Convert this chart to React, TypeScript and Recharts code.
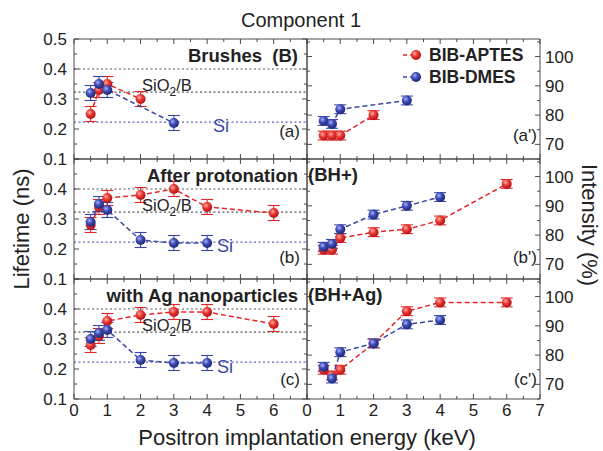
import React from "react"
import { ComposedChart, Line, XAxis, YAxis, ErrorBar, ReferenceLine } from "recharts"

const W = 603
const H = 451
const RED = "#e3262a"
const BLUE = "#3a47a6"
const AXIS = "#4a4a4a"
const TEXT = "#222"
const FONT = "'Liberation Sans', Arial, Helvetica, sans-serif"

const SERIES = ["BIB-APTES", "BIB-DMES"]

const X_TICKS = [0, 0.5, 1, 1.5, 2, 2.5, 3, 3.5, 4, 4.5, 5, 5.5, 6, 6.5, 7]
const LIFE_TICKS = [0.1, 0.15, 0.2, 0.25, 0.3, 0.35, 0.4, 0.45, 0.5]
const INT_TICKS = [65, 70, 75, 80, 85, 90, 95, 100, 105]
const LIFE_DOMAIN = [0.1, 0.5]
const INT_DOMAIN = [65, 106]

// horizontal reference levels (ns)
const REF_TOP = 0.4
const REF_SIO2 = 0.323
const REF_SI = 0.223

const LIFE_ERR = 0.025
const INT_ERR = 1.5

// (a) brushes
const aptesE_a = [0.5, 0.75, 1, 2]
const aptesLife_a = [0.25, 0.33, 0.35, 0.3]
const aptesInt_a = [73, 73, 73, 80]
const dmesE_a = [0.5, 0.75, 1, 3]
const dmesLife_a = [0.32, 0.35, 0.33, 0.22]
const dmesInt_a = [78, 77, 82, 85]

// (b) after protonation
const aptesE_b = [0.5, 0.75, 1, 2, 3, 4, 6]
const aptesLife_b = [0.28, 0.34, 0.37, 0.38, 0.4, 0.34, 0.32]
const aptesInt_b = [75, 75, 79, 81, 82, 85, 97.5]
const dmesE_b = [0.5, 0.75, 1, 2, 3, 4]
const dmesLife_b = [0.29, 0.35, 0.33, 0.23, 0.22, 0.22]
const dmesInt_b = [76, 77, 82, 87, 90, 93]

// (c) with Ag nanoparticles
const aptesE_c = [0.5, 0.75, 1, 2, 3, 4, 6]
const aptesLife_c = [0.28, 0.31, 0.36, 0.38, 0.39, 0.39, 0.35]
const aptesInt_c = [75, 73, 75, 84, 95, 98, 98]
const dmesE_c = [0.5, 0.75, 1, 2, 3, 4]
const dmesLife_c = [0.3, 0.32, 0.33, 0.23, 0.22, 0.22]
const dmesInt_c = [76, 72, 81, 84, 90.5, 92]

const ROW_TITLES = ["Brushes  (B)", "After protonation", "with Ag nanoparticles"]
const ROW_TAGS = ["", "(BH+)", "(BH+Ag)"]
const ROW_LETTERS = ["a", "b", "c"]

const ROWS = [
  { aE: aptesE_a, aL: aptesLife_a, aI: aptesInt_a, dE: dmesE_a, dL: dmesLife_a, dI: dmesInt_a },
  { aE: aptesE_b, aL: aptesLife_b, aI: aptesInt_b, dE: dmesE_b, dL: dmesLife_b, dI: dmesInt_b },
  { aE: aptesE_c, aL: aptesLife_c, aI: aptesInt_c, dE: dmesE_c, dL: dmesLife_c, dI: dmesInt_c },
]

const ROW_TOP = [39, 159, 279]
const PH = 120
const LEFT_X = 74
const MID_X = 307
const RIGHT_X = 540
const TM = 2

const pts = (e: number[], v: number[], err: number) => e.map((x, i) => ({ e: x, v: v[i], err }))

type Orient = "bottom" | "top" | "left" | "right"

function tickFn(orient: Orient, step: number, label?: (v: number) => string | null) {
  return (p: any) => {
    const { x, y, payload } = p
    const v = payload.value as number
    const major = Math.abs(v / step - Math.round(v / step)) < 1e-6
    const len = major ? 5 : 3
    const txt = major && label ? label(v) : null
    let l = { x1: x, x2: x, y1: y, y2: y }
    let t: any = null
    if (orient === "bottom") {
      const ly = y - TM
      l = { x1: x, x2: x, y1: ly, y2: ly - len }
      if (txt) t = <text x={x} y={y + 15} textAnchor="middle" fontSize={17} fill={TEXT}>{txt}</text>
    } else if (orient === "top") {
      const ly = y + TM
      l = { x1: x, x2: x, y1: ly, y2: ly + len }
    } else if (orient === "left") {
      const lx = x + TM
      l = { x1: lx, x2: lx + len, y1: y, y2: y }
      if (txt) t = <text x={lx - 7} y={y} dy="0.36em" textAnchor="end" fontSize={17} fill={TEXT}>{txt}</text>
    } else {
      const lx = x - TM
      l = { x1: lx, x2: lx - len, y1: y, y2: y }
      if (txt) t = <text x={lx + 5} y={y} dy="0.36em" textAnchor="start" fontSize={17} fill={TEXT}>{txt}</text>
    }
    return (
      <g>
        <line {...l} stroke={AXIS} strokeWidth={1} />
        {t}
      </g>
    )
  }
}

const ball = (grad: string) => (p: any) => {
  const { cx, cy, key } = p
  if (cx == null || cy == null) return <g key={key} />
  return <circle key={key} cx={cx} cy={cy} r={5} fill={`url(#${grad})`} />
}

function Panel({ row, side }: { row: number; side: "life" | "int" }) {
  const T = ROW_TOP[row]
  const r = ROWS[row]
  const isLife = side === "life"
  const last = row === 2
  const lw = isLife ? 40 : 10
  const rw = isLife ? 10 : 50
  const left = isLife ? LEFT_X - lw : MID_X - lw
  const right = isLife ? W - MID_X - rw : W - RIGHT_X - rw
  const err = isLife ? LIFE_ERR : INT_ERR
  const aData = pts(r.aE, isLife ? r.aL : r.aI, err)
  const dData = pts(r.dE, isLife ? r.dL : r.dI, err)
  const ticksY = isLife ? LIFE_TICKS : INT_TICKS
  const domY = isLife ? LIFE_DOMAIN : INT_DOMAIN
  const stepY = isLife ? 0.1 : 10
  const lifeLabel = (v: number) => (row > 0 && v > 0.45 ? null : v.toFixed(1))
  const intLabel = (v: number) => (v >= 70 && v <= 100 ? String(v) : null)
  const xLabel = last ? (v: number) => (isLife && v > 6.5 ? null : String(v)) : undefined

  // both x axes and both y axes share the same domain; APTES is bound to (b, l) and
  // DMES to (t, r) so that every axis has a series and draws its ticks
  return (
    <div style={{ position: "absolute", left: 0, top: 0 }}>
      <ComposedChart
        width={W}
        height={H}
        margin={{ top: T - 10, bottom: H - (T + PH) - 20, left, right }}
      >
        <XAxis
          xAxisId="b"
          dataKey="e"
          type="number"
          domain={[0, 7]}
          ticks={X_TICKS}
          interval={0}
          tickSize={0}
          tickMargin={TM}
          tickLine={false}
          tick={tickFn("bottom", 1, xLabel)}
          axisLine={{ stroke: AXIS }}
          height={20}
        />
        <XAxis
          xAxisId="t"
          dataKey="e"
          orientation="top"
          type="number"
          domain={[0, 7]}
          ticks={X_TICKS}
          interval={0}
          tickSize={0}
          tickMargin={TM}
          tickLine={false}
          tick={tickFn("top", 1)}
          axisLine={{ stroke: AXIS }}
          height={10}
        />
        <YAxis
          yAxisId="l"
          type="number"
          domain={domY}
          ticks={ticksY}
          interval={0}
          tickSize={0}
          tickMargin={TM}
          tickLine={false}
          tick={tickFn("left", stepY, isLife ? lifeLabel : undefined)}
          axisLine={{ stroke: AXIS }}
          width={lw}
        />
        <YAxis
          yAxisId="r"
          orientation="right"
          type="number"
          domain={domY}
          ticks={ticksY}
          interval={0}
          tickSize={0}
          tickMargin={TM}
          tickLine={false}
          tick={tickFn("right", stepY, isLife ? undefined : intLabel)}
          axisLine={{ stroke: AXIS }}
          width={rw}
        />
        {isLife && (
          <ReferenceLine xAxisId="b" yAxisId="l" y={REF_TOP} stroke="#555" strokeDasharray="2 2.5" strokeWidth={1.1} />
        )}
        {isLife && (
          <ReferenceLine xAxisId="b" yAxisId="l" y={REF_SIO2} stroke="#555" strokeDasharray="2 2.5" strokeWidth={1.1} />
        )}
        {isLife && (
          <ReferenceLine xAxisId="b" yAxisId="l" y={REF_SI} stroke="#5a64b8" strokeDasharray="2 2.5" strokeWidth={1.1} />
        )}
        <Line
          xAxisId="b"
          yAxisId="l"
          data={aData}
          dataKey="v"
          name={SERIES[0]}
          stroke={RED}
          strokeWidth={1.5}
          strokeDasharray="5 3"
          dot={ball("gRed")}
          activeDot={false}
          isAnimationActive={false}
        >
          <ErrorBar dataKey="err" direction="y" width={6} strokeWidth={1.1} stroke={RED} />
        </Line>
        <Line
          xAxisId="t"
          yAxisId="r"
          data={dData}
          dataKey="v"
          name={SERIES[1]}
          stroke={BLUE}
          strokeWidth={1.5}
          strokeDasharray="5 3"
          dot={ball("gBlue")}
          activeDot={false}
          isAnimationActive={false}
        >
          <ErrorBar dataKey="err" direction="y" width={6} strokeWidth={1.1} stroke={BLUE} />
        </Line>
      </ComposedChart>
    </div>
  )
}

function Overlay() {
  const sioBase = [91, 211, 331]
  const siBase = [132, 252, 373]
  const siX = [213, 217, 217]
  const letterBase = [137, 263, 385]
  const primeBase = [141, 263, 385]
  const legend = [
    { name: SERIES[0], color: RED, grad: "gRed", y: 55 },
    { name: SERIES[1], color: BLUE, grad: "gBlue", y: 77 },
  ]
  return (
    <svg width={W} height={H} style={{ position: "absolute", left: 0, top: 0 }} fill={TEXT}>
      <text x={301} y={27} fontSize={20} textAnchor="middle">Component 1</text>
      <text transform="translate(29,229) rotate(-90)" fontSize={22} textAnchor="middle">Lifetime (ns)</text>
      <text transform="translate(582,225) rotate(90)" fontSize={22} textAnchor="middle">Intensity (%)</text>
      <text x={307} y={445} fontSize={22} textAnchor="middle">Positron implantation energy (keV)</text>
      {ROW_TOP.map((T, i) => (
        <g key={i}>
          <text x={298} y={T + 23} fontSize={18.5} fontWeight="bold" textAnchor="end" style={{ whiteSpace: "pre" }}>
            {ROW_TITLES[i]}
          </text>
          {ROW_TAGS[i] && (
            <text x={308} y={T + 22} fontSize={18.5} fontWeight="bold">{ROW_TAGS[i]}</text>
          )}
          <text x={142} y={sioBase[i]} fontSize={16.5}>
            SiO<tspan fontSize={12} dy={5}>2</tspan><tspan dy={-5}>/B</tspan>
          </text>
          <text x={siX[i]} y={siBase[i]} fontSize={18} fill={BLUE}>Si</text>
          <text x={300} y={letterBase[i]} fontSize={17} textAnchor="end">({ROW_LETTERS[i]})</text>
          <text x={537} y={primeBase[i]} fontSize={17} textAnchor="end">({ROW_LETTERS[i]}')</text>
        </g>
      ))}
      {legend.map((l) => (
        <g key={l.name}>
          <line x1={403} x2={424} y1={l.y} y2={l.y} stroke={l.color} strokeWidth={1.5} strokeDasharray="4 3" />
          <circle cx={416} cy={l.y} r={5} fill={`url(#${l.grad})`} />
          <text x={429} y={l.y + 6} fontSize={17.5} fontWeight="bold">{l.name}</text>
        </g>
      ))}
    </svg>
  )
}

export default function App() {
  return (
    <div style={{ position: "absolute", left: 0, top: 0, width: W, height: H, background: "#fff", fontFamily: FONT }}>
      <svg width={0} height={0} style={{ position: "absolute" }}>
        <defs>
          <radialGradient id="gRed" cx="0.38" cy="0.35" r="0.65">
            <stop offset="0%" stopColor="#ffb0a8" />
            <stop offset="45%" stopColor="#ec3a34" />
            <stop offset="100%" stopColor="#b3121a" />
          </radialGradient>
          <radialGradient id="gBlue" cx="0.38" cy="0.35" r="0.65">
            <stop offset="0%" stopColor="#a9b2ff" />
            <stop offset="45%" stopColor="#3f4db4" />
            <stop offset="100%" stopColor="#1f2877" />
          </radialGradient>
        </defs>
      </svg>
      {[0, 1, 2].map((r) => (
        <React.Fragment key={r}>
          <Panel row={r} side="life" />
          <Panel row={r} side="int" />
        </React.Fragment>
      ))}
      <Overlay />
    </div>
  )
}
